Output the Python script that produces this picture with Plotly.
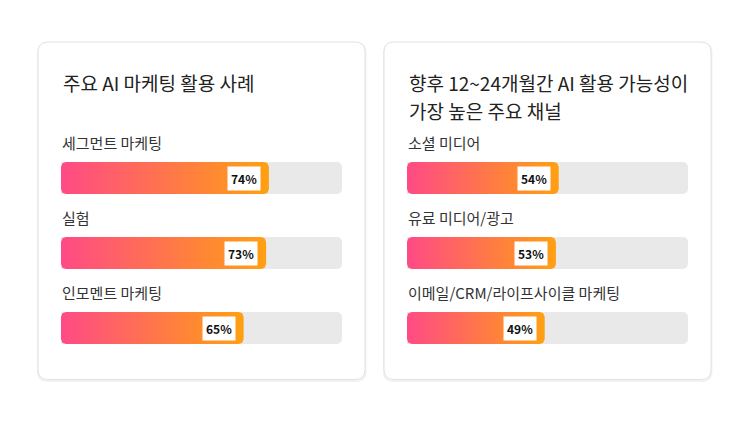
import plotly.graph_objects as go
import numpy as np

W, H = 750, 422

# 데이터
left_title = ["주요 AI 마케팅 활용 사례"]
left_labels = ["세그먼트 마케팅", "실험", "인모멘트 마케팅"]
left_values = [74, 73, 65]

right_title = ["향후 12~24개월간 AI 활용 가능성이", "가장 높은 주요 채널"]
right_labels = ["소셜 미디어", "유료 미디어/광고", "이메일/CRM/라이프사이클 마케팅"]
right_values = [54, 53, 49]

FONT = "Noto Sans CJK KR"
GRAD = [[0, "#FF4A86"], [1, "#FFA012"]]

# 픽셀 기준 레이아웃
track_px = 281
band_px = 75
bar_px = 32
x_dom1 = [61 / W, 342 / W]
x_dom2 = [407 / W, 688 / W]
y_dom = [1 - 365.5 / H, 1 - 140.5 / H]


def rounded_bar(x1, yc, r_px=5):
    # 둥근 모서리 막대 외곽선 (데이터 단위)
    rx = r_px / (track_px / 100)
    ry = r_px / band_px
    h = (bar_px / 2) / band_px
    xs, ys = [], []
    corners = [(x1 - rx, yc - h + ry, -90, 0), (x1 - rx, yc + h - ry, 0, 90),
               (0 + rx, yc + h - ry, 90, 180), (0 + rx, yc - h + ry, 180, 270)]
    for cx, cy, a0, a1 in corners:
        t = np.radians(np.linspace(a0, a1, 8))
        xs += list(cx + rx * np.cos(t))
        ys += list(cy + ry * np.sin(t))
    xs.append(xs[0]); ys.append(ys[0])
    return xs, ys


fig = go.Figure()

panels = [(left_labels, left_values, "x", "y", x_dom1, left_title),
          (right_labels, right_values, "x2", "y", x_dom2, right_title)]

for labels, values, xa, ya, dom, title in panels:
    idx = list(range(len(labels)))
    # 회색 트랙
    fig.add_trace(go.Bar(
        x=[100] * len(labels), y=idx, orientation="h", width=bar_px / band_px,
        marker=dict(color="#E9E9E9", cornerradius=5, line_width=0),
        xaxis=xa, yaxis=ya, hoverinfo="skip", showlegend=False))
    for i, v in zip(idx, values):
        xs, ys = rounded_bar(v, i)
        fig.add_trace(go.Scatter(
            x=xs, y=ys, fill="toself", mode="lines", line=dict(width=0),
            fillgradient=dict(type="horizontal", colorscale=GRAD),
            xaxis=xa, yaxis=ya, hoverinfo="skip", showlegend=False))
        fig.add_annotation(
            x=v, y=i, xref=xa, yref=ya, text=f"<b>{v}%</b>", showarrow=False,
            xanchor="right", xshift=-8, bgcolor="white", borderpad=3,
            font=dict(family=FONT, size=12, color="#111111"))
    for i, lab in zip(idx, labels):
        fig.add_annotation(
            x=dom[0], y=i, xref="paper", yref=ya, text=lab, showarrow=False,
            xanchor="left", yanchor="middle", yshift=36, xshift=-1,
            font=dict(family=FONT, size=15, color="#333333"))
    # 카드 제목 (줄 간격 28px)
    for k, line in enumerate(title):
        fig.add_annotation(
            x=dom[0], y=1 - (82.5 + 28 * k) / H, xref="paper", yref="paper", text=line,
            showarrow=False, xanchor="left", yanchor="middle",
            font=dict(family=FONT, size=19, color="#222222"))


# 카드 배경
def card_path(x0, y0, x1, y1, r=10):
    X = lambda p: p / W
    Y = lambda p: 1 - p / H
    return (f"M {X(x0 + r)} {Y(y0)} L {X(x1 - r)} {Y(y0)} Q {X(x1)} {Y(y0)} {X(x1)} {Y(y0 + r)} "
            f"L {X(x1)} {Y(y1 - r)} Q {X(x1)} {Y(y1)} {X(x1 - r)} {Y(y1)} "
            f"L {X(x0 + r)} {Y(y1)} Q {X(x0)} {Y(y1)} {X(x0)} {Y(y1 - r)} "
            f"L {X(x0)} {Y(y0 + r)} Q {X(x0)} {Y(y0)} {X(x0 + r)} {Y(y0)} Z")


for x0, x1 in [(38, 365), (384, 711)]:
    fig.add_shape(type="path", path=card_path(x0, 43, x1 + 0.5, 381), xref="paper", yref="paper",
                  line=dict(color="#F1F1F1", width=2), fillcolor="rgba(0,0,0,0)", layer="below")
    fig.add_shape(type="path", path=card_path(x0, 42, x1, 379.5), xref="paper", yref="paper",
                  line=dict(color="#E2E2E2", width=1), fillcolor="white", layer="below")

ax = dict(range=[0, 100], visible=False, fixedrange=True)
fig.update_layout(
    width=W, height=H, margin=dict(l=0, r=0, t=0, b=0),
    paper_bgcolor="white", plot_bgcolor="rgba(0,0,0,0)",
    xaxis=dict(domain=x_dom1, anchor="y", **ax),
    xaxis2=dict(domain=x_dom2, anchor="y", **ax),
    yaxis=dict(domain=y_dom, range=[2.5, -0.5], visible=False, fixedrange=True),
    barmode="overlay", showlegend=False,
)

# 페이지 기본 여백 제거
fig.write_html("out.html", post_script="document.body.style.margin='0';",
               config={"displayModeBar": False})
